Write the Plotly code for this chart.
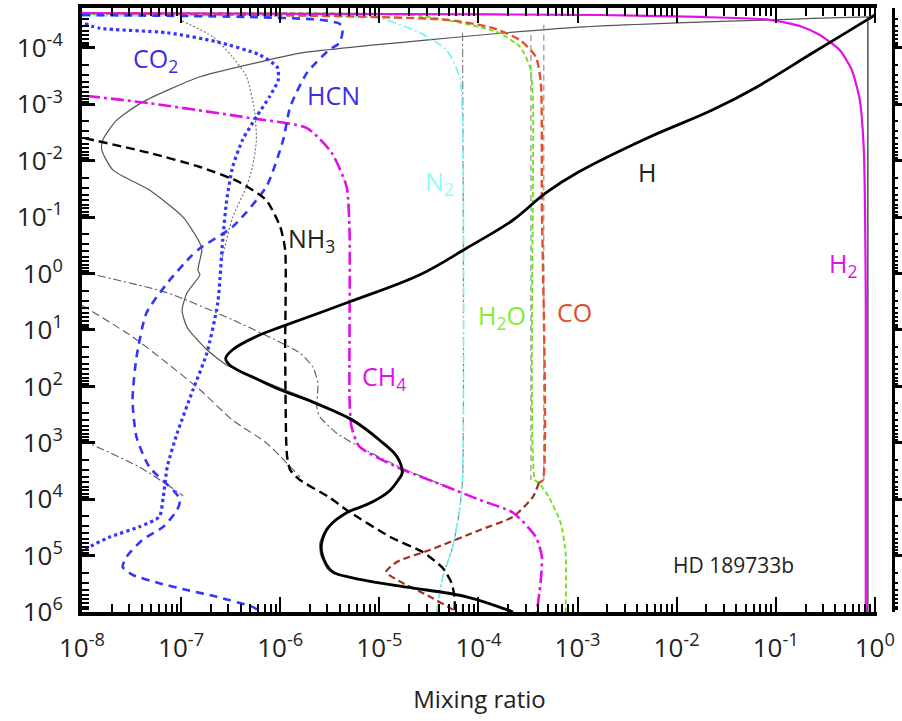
import numpy as np
import plotly.graph_objects as go

# Vertical profiles for HD 189733b, stored as log10(mixing ratio) and log10(pressure)

# Thick-line model
h2_logx = [-8.00, -4.79, -2.78, -1.77, -1.06, -0.757, -0.555, -0.353, -0.232, -0.152, -0.111, -0.091, -0.091]
h2_logp = [-4.62, -4.60, -4.585, -4.55, -4.50, -4.39, -4.23, -3.96, -3.61, -3.08, -2.19, 0.47, 6.00]

h_logx = [0.00, -0.05, -0.63, -1.19, -1.64, -2.30, -2.99, -3.32, -3.65, -4.12, -4.59, -5.30, -6.00, -6.21,
          -6.48, -6.55, -6.51, -6.21, -6.00, -5.67, -5.27, -5.00, -4.82, -4.77, -4.81, -4.89, -5.00, -5.13,
          -5.33, -5.51, -5.58, -5.58, -5.51, -5.45, -5.17, -4.72, -4.12, -3.65]
h_logp = [-4.585, -4.53, -3.91, -3.31, -2.90, -2.40, -1.80, -1.43, -0.95, -0.45, 0.02, 0.50, 0.95, 1.09,
          1.35, 1.50, 1.62, 1.89, 2.06, 2.28, 2.60, 2.95, 3.25, 3.54, 3.66, 3.84, 3.98, 4.10,
          4.24, 4.49, 4.76, 4.95, 5.22, 5.31, 5.43, 5.56, 5.73, 6.00]

nh3_logx = [-7.97, -7.32, -6.81, -6.41, -6.14, -6.00, -5.95, -5.95, -5.94, -5.93, -5.90, -5.80, -5.51,
            -5.33, -4.89, -4.56, -4.36, -4.27, -4.24, -4.24]
nh3_logp = [-2.40, -2.14, -1.89, -1.62, -1.30, -0.83, -0.42, 1.35, 2.95, 3.25, 3.48, 3.66, 3.96,
            4.19, 4.67, 4.94, 5.22, 5.49, 5.75, 6.00]

ch4_logx = [-7.95, -7.32, -6.31, -5.73, -5.48, -5.33, -5.30, -5.30, -5.28, -5.20, -4.82, -4.32, -3.99,
            -3.65, -3.42, -3.36, -3.37, -3.41]
ch4_logp = [-3.15, -3.02, -2.76, -2.58, -2.14, -1.54, -0.72, 2.24, 2.72, 3.07, 3.43, 3.78, 4.01,
            4.24, 4.67, 5.02, 5.43, 6.00]

co2_logx = [-7.97, -7.82, -7.14, -6.64, -6.21, -6.03, -6.02, -6.11, -6.24, -6.38, -6.48, -6.54, -6.58,
            -6.63, -6.74, -6.88, -7.04, -7.14, -7.18, -7.22, -7.42, -7.72, -7.95, -8.00]
co2_logp = [-4.43, -4.35, -4.27, -4.11, -3.88, -3.66, -3.43, -3.13, -2.78, -2.37, -1.89, -1.30, -0.60,
            0.52, 1.41, 2.06, 2.83, 3.43, 3.96, 4.31, 4.49, 4.67, 4.87, 4.94]

hcn_logx = [-8.00, -6.31, -5.60, -5.40, -5.37, -5.40, -5.51, -5.73, -5.90, -5.97, -6.14, -6.48, -6.81,
            -6.91, -7.14, -7.35, -7.45, -7.49, -7.45, -7.32, -7.08, -7.01, -7.04, -7.18, -7.39, -7.55,
            -7.59, -7.49, -7.22, -6.94, -6.64, -6.28, -6.19]
hcn_logp = [-4.585, -4.55, -4.50, -4.43, -4.32, -4.09, -3.96, -3.56, -2.95, -2.37, -1.54, -0.83, -0.45,
            -0.29, 0.17, 0.70, 1.48, 2.24, 2.90, 3.43, 3.84, 4.01, 4.19, 4.49, 4.72, 5.02,
            5.20, 5.34, 5.49, 5.61, 5.73, 5.91, 6.00]

n2_logx = [-8.00, -5.80, -5.00, -4.59, -4.32, -4.19, -4.16, -4.16, -4.19, -4.26, -4.36, -4.42]
n2_logp = [-4.57, -4.57, -4.53, -4.27, -3.96, -3.49, -2.78, 3.66, 4.19, 4.85, 5.38, 6.00]

h2o_logx = [-8.00, -4.59, -3.81, -3.58, -3.48, -3.45, -3.43, -3.39, -3.29, -3.17, -3.12, -3.12]
h2o_logp = [-4.60, -4.57, -4.28, -4.02, -3.66, -3.08, 3.66, 3.71, 3.96, 4.42, 4.95, 6.00]

co_up_logx = [-8.00, -4.32, -3.85, -3.58, -3.42, -3.37, -3.36, -3.35, -3.39]
co_up_logp = [-4.62, -4.50, -4.35, -4.14, -3.84, -3.38, -1.30, 3.66, 3.71]
co_lo_logx = [-3.39, -3.45, -3.65, -3.99, -4.49, -4.82, -4.93, -4.76, -4.52, -4.26, -4.24]
co_lo_logp = [3.71, 3.96, 4.31, 4.55, 4.90, 5.11, 5.29, 5.49, 5.70, 5.96, 6.00]

# Thin-line comparison model
h2_b_logx = [-0.07, -0.07]
h2_b_logp = [-4.55, 6.00]

h_b_logx = [-0.05, -2.99, -5.80, -6.11, -6.81, -7.39, -7.65, -7.79, -7.80, -7.69, -7.32, -6.98, -6.81,
            -6.79, -6.83, -6.81, -6.94, -6.99, -6.94, -6.74, -6.54, -6.31, -6.00, -5.67, -5.27, -5.00,
            -4.82, -4.76, -4.80, -4.88, -4.99, -5.13, -5.35, -5.53, -5.60, -5.59, -5.52, -5.45]
h_b_logp = [-4.55, -4.37, -3.91, -3.79, -3.49, -3.04, -2.72, -2.37, -2.19, -1.84, -1.48, -1.00, -0.54,
            -0.42, -0.06, 0.02, 0.34, 0.65, 0.95, 1.35, 1.62, 1.80, 2.03, 2.26, 2.58, 2.93,
            3.23, 3.52, 3.66, 3.82, 3.96, 4.08, 4.26, 4.51, 4.78, 4.99, 5.24, 5.33]

ch4_b_logx = [-8.00, -7.14, -6.48, -5.80, -5.67, -5.62, -5.63, -5.60, -5.43, -5.20, -4.82, -4.32]
ch4_b_logp = [-0.03, 0.34, 0.82, 1.41, 1.66, 1.94, 2.37, 2.54, 2.83, 3.07, 3.41, 3.78]

nh3_b_logx = [-8.00, -7.49, -7.14, -6.81, -6.48, -6.14, -5.80]
nh3_b_logp = [0.56, 1.12, 1.59, 2.06, 2.60, 3.00, 3.61]

hcn_b_logx = [-8.00, -7.42, -7.11, -6.98]
hcn_b_logp = [2.95, 3.43, 3.78, 3.94]

co2_b_logx = [-6.99, -6.68, -6.48, -6.34, -6.26, -6.24, -6.28, -6.34, -6.48, -6.54, -6.59]
co2_b_logp = [-4.48, -4.20, -3.84, -3.49, -2.90, -2.37, -1.89, -1.54, -1.00, -0.60, -0.24]

n2_b_logx = [-4.16, -4.16, -4.19, -4.26, -4.36, -4.42]
n2_b_logp = [-4.27, 3.66, 4.19, 4.85, 5.38, 6.00]

h2o_b_logx = [-3.47, -3.47]
h2o_b_logp = [-4.23, 3.66]

co_b_logx = [-3.34, -3.34]
co_b_logp = [-4.41, 3.66]

# Axis decades
x_ticks = list(range(-8, 1))
y_ticks = list(range(-4, 7))

MAG = "#e010e8"
BLUE = "#3434ff"
CYAN = "#70f4f4"
GREEN = "#6ee014"
RED = "#e0502c"
DKRED = "#a2301e"
GREY = "#5a5a5a"
FONT = "Open Sans, Noto Sans, sans-serif"

fig = go.Figure()


def add(lx, lp, color, width, dash="solid", yaxis="y", smooth=0.6):
    fig.add_trace(go.Scatter(
        x=10 ** np.array(lx), y=10 ** np.array(lp), mode="lines",
        line=dict(color=color, width=width, dash=dash, shape="spline", smoothing=smooth),
        hoverinfo="skip", showlegend=False, yaxis=yaxis))


# comparison model (thin)
add(h2_b_logx, h2_b_logp, "#222222", 1.2, yaxis="y2")
add(h_b_logx, h_b_logp, "#555555", 1.2)
add(ch4_b_logx, ch4_b_logp, GREY, 1.1, "8px,3px,2px,3px")
add(nh3_b_logx, nh3_b_logp, GREY, 1.1, "8px,4px")
add(hcn_b_logx, hcn_b_logp, GREY, 1.1, "8px,3px,2px,3px")
add(co2_b_logx, co2_b_logp, "#777777", 1.2, "2px,2px")
add(n2_b_logx, n2_b_logp, "#777777", 1.1, "8px,3px,2px,3px")
add(h2o_b_logx, h2o_b_logp, "#888888", 1.1, "6px,4px")
add(co_b_logx, co_b_logp, "#888888", 1.1, "6px,4px")

# main model (thick)
add(n2_logx, n2_logp, CYAN, 1.6, "9px,3px,2px,3px")
add(h2o_logx, h2o_logp, GREEN, 1.8, "5px,3px")
add(co_up_logx, co_up_logp, RED, 2.4, "8px,4px")
add(co_lo_logx, co_lo_logp, DKRED, 2.2, "7px,4px")
add(ch4_logx, ch4_logp, MAG, 2.6, "13px,4px,3px,4px")
add(co2_logx, co2_logp, BLUE, 3.2, "dot")
add(hcn_logx, hcn_logp, BLUE, 2.6, "8px,6px")
add(nh3_logx, nh3_logp, "#000000", 2.4, "9px,5px")
add(h2_logx, h2_logp, MAG, 2.2)
add(h_logx, h_logp, "#000000", 2.8, smooth=1.0)


def label(text, lx, lp, color, size=25):
    fig.add_annotation(x=lx, y=lp, xref="x", yref="y", text=text, showarrow=False,
                       xanchor="left", yanchor="middle",
                       font=dict(family=FONT, size=size, color=color))


label("CO<sub>2</sub>", -7.51, -3.80, "#3b2ee6")
label("HCN", -5.75, -3.17, "#3b2ee6")
label("N<sub>2</sub>", -4.56, -1.62, "#90fcfc")
label("H", -2.41, -1.80, "#222222")
label("NH<sub>3</sub>", -5.94, -0.60, "#222222")
label("H<sub>2</sub>", -0.48, -0.16, MAG)
label("H<sub>2</sub>O", -4.02, 0.76, "#86ec30")
label("CO", -3.23, 0.68, "#dd5030")
label("CH<sub>4</sub>", -5.19, 1.84, MAG)
label("HD 189733b", -2.06, 5.17, "#222222", size=21)

x_text = ["10<sup>%d</sup>" % v for v in x_ticks]
y_text = ["10<sup>%d</sup>" % v for v in y_ticks]

L, R, T, B = 82, 9, 8, 109
W, H = 902, 721
pw = W - L - R
x_end = (877 - L) / pw

fig.update_layout(
    width=W, height=H, margin=dict(l=L, r=R, t=T, b=B, autoexpand=False),
    paper_bgcolor="white", plot_bgcolor="white", showlegend=False,
    font=dict(family=FONT, color="#222222"),
    xaxis=dict(type="log", range=[-8, 0.022], domain=[0, x_end],
               tickvals=[10.0 ** v for v in x_ticks], ticktext=x_text,
               ticks="inside", ticklen=15, tickwidth=2, tickcolor="black",
               minor=dict(ticks="inside", ticklen=8, tickwidth=2, tickcolor="black", dtick="D1", showgrid=False),
               showline=True, linewidth=4, linecolor="black", mirror="ticks",
               showgrid=False, zeroline=False, tickfont=dict(size=26, color="#222222"),
               ticklabelstandoff=10,
               title=dict(text="Mixing ratio", font=dict(size=24, color="#222222"), standoff=28)),
    yaxis=dict(type="log", range=[6, -4.709],
               tickvals=[10.0 ** v for v in y_ticks], ticktext=y_text,
               ticks="inside", ticklen=13, tickwidth=3, tickcolor="black",
               minor=dict(ticks="inside", ticklen=7, tickwidth=2, tickcolor="black", dtick="D1", showgrid=False),
               showline=True, linewidth=4, linecolor="black", mirror=False,
               showgrid=False, zeroline=False, tickfont=dict(size=26, color="#222222"),
               ticklabelstandoff=10),
    yaxis2=dict(type="log", matches="y", overlaying="y", anchor="free", position=1.0, side="left",
                ticks="inside", ticklen=10, tickwidth=3, tickcolor="black",
                tickvals=[10.0 ** v for v in y_ticks], showticklabels=False,
                minor=dict(ticks="inside", ticklen=3, tickwidth=2, tickcolor="black", dtick="D1", showgrid=False),
                showline=True, linewidth=3, linecolor="black", showgrid=False, zeroline=False),
)

fig.write_html("out.html")
